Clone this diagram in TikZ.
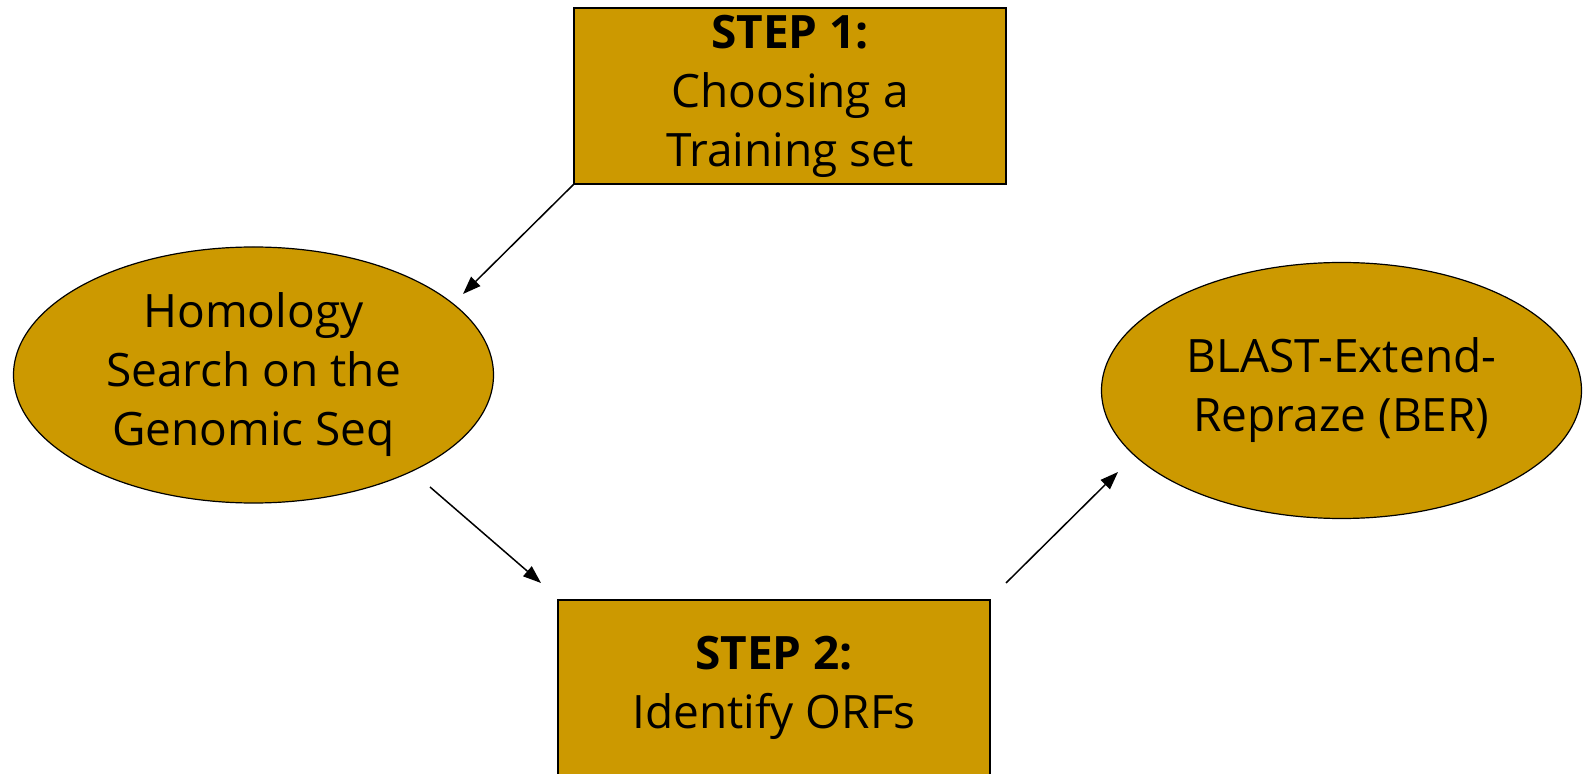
\documentclass[tikz,border=0pt]{standalone}
\usepackage{fontspec}
\setmainfont{Open Sans}
\usetikzlibrary{shapes.geometric,arrows.meta}
\definecolor{stepgold}{HTML}{CC9900}
\newcommand{\steptext}{\fontsize{23}{29.5}\selectfont}
\tikzset{
  stepbox/.style={draw,fill=stepgold,line width=0.75pt,inner sep=0pt,
    minimum width=216pt,minimum height=88pt,align=center,font=\steptext},
  stagebubble/.style={ellipse,draw,fill=stepgold,line width=0.6pt,inner sep=0pt,
    minimum width=240pt,minimum height=128pt,align=center,font=\steptext},
  flow/.style={line width=0.75pt,-{Triangle[length=9pt,width=6.5pt]}}
}

\begin{document}
\begin{tikzpicture}[x=0.5pt,y=-0.5pt]
  \useasboundingbox (0,0) rectangle (1584,774);
  \clip (0,0) rectangle (1584,774);
  % the two steps
  \node[stepbox] (step1) at (790,96) {\textbf{STEP 1:}\\Choosing a\\ Training set};
  \node[stepbox] (step2) at (774,688) {\textbf{STEP 2:}\\Identify ORFs};
  % side stages
  \node[stagebubble] (homology) at (253.5,375) {Homology\\Search on the\\Genomic Seq};
  \node[stagebubble] (ber) at (1341.5,390.5) {BLAST-Extend-\\Repraze (BER)};
  % free arrow ends
  \coordinate (a1end) at (463,294);
  \coordinate (a2start) at (430,487);
  \coordinate (a2end) at (541,583);
  \coordinate (a3start) at (1006,583);
  \coordinate (a3end) at (1118,472);
  \draw[flow] (step1.south west) -- (a1end);
  \draw[flow] (a2start) -- (a2end);
  \draw[flow] (a3start) -- (a3end);
\end{tikzpicture}
\end{document}
